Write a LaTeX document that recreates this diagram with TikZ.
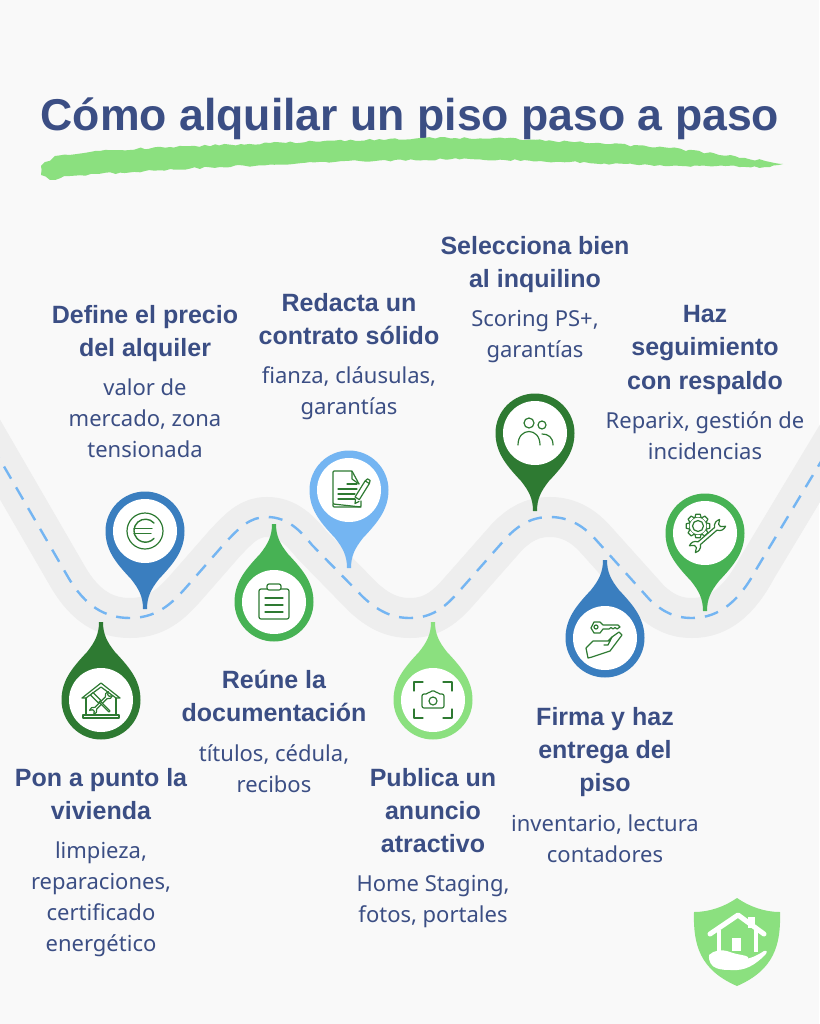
\documentclass[tikz,border=0pt]{standalone}
\usepackage{fontspec}
\setmainfont{Noto Sans}
\newfontfamily\headfont{Liberation Sans}
\usetikzlibrary{positioning,decorations.pathmorphing}
\definecolor{pagegrey}{HTML}{F9F9F9}
\definecolor{roadgrey}{HTML}{EEEEEE}
\definecolor{inkblue}{HTML}{3B4E84}
\definecolor{skyblue}{HTML}{74B5F2}
\definecolor{midblue}{HTML}{3A7EBF}
\definecolor{darkgreen}{HTML}{2E7A32}
\definecolor{midgreen}{HTML}{47B254}
\definecolor{lightgreen}{HTML}{8BE07F}
\tikzset{
	heading/.style={text=inkblue,align=center,inner sep=0pt,anchor=north,execute at begin node=\strut,execute at end node=\strut,font=\headfont\bfseries\fontsize{25}{33.3}\selectfont},
	detail/.style={text=inkblue,align=center,inner sep=0pt,execute at begin node=\strut,execute at end node=\strut,font=\fontsize{22}{31}\selectfont},
	pindisc/.style={circle,fill=white,minimum size=64pt,inner sep=0pt},
	iconline/.style={draw=darkgreen,line width=1.2pt,line join=round,line cap=round}
}
\newcommand{\mappin}[5]{%
	\fill[#4,shift={(#2,#3)},yscale=#5] (2,78) -- (-2,78) .. controls (-2,66) and (-6,58) .. (-14,48) .. controls (-28,33) and (-39.5,20) .. (-39.5,0) arc[start angle=180,end angle=360,radius=39.5] .. controls (39.5,20) and (28,33) .. (14,48) .. controls (6,58) and (2,66) .. (2,78) -- cycle;
	\node[pindisc] (#1) at (#2,#3) {};
}
\newcommand{\spanner}{(-11,1.8) -- (11,1.8) .. controls (13,5.5) and (17,6) .. (20,4.5) -- (16,1.5) -- (16,-1.5) -- (20,-4.5) .. controls (17,-6) and (13,-5.5) .. (11,-1.8) -- (-11,-1.8) .. controls (-13,-5.5) and (-17,-6) .. (-20,-4.5) -- (-16,-1.5) -- (-16,1.5) -- (-20,4.5) .. controls (-17,6) and (-13,5.5) .. (-11,1.8) -- cycle}
\begin{document}
\begin{tikzpicture}[x=1pt,y=-1pt]
	\useasboundingbox (0,0) rectangle (819,1024);
	\fill[pagegrey] (0,0) rectangle (819,1024);

	\node[text=inkblue,inner sep=0pt,font=\headfont\bfseries\fontsize{44.6}{50}\selectfont] (title) at (410,119) {Cómo alquilar un piso paso a paso};
	\fill[lightgreen,decorate,decoration={random steps,segment length=5pt,amplitude=1.1pt}]
		(41,166) -- (55,156) -- (95,151) -- (170,147) -- (270,143) -- (420,138) -- (495,138) -- (595,143) -- (670,148) -- (745,158) -- (783,164)
		-- (770,167) -- (670,166) -- (570,162) -- (470,159) -- (345,161) -- (220,167) -- (145,171) -- (70,176) -- (50,180) -- (41,175) -- cycle;

	\def\roadpath{(-20,425) -- (68,577) .. controls (85,606) and (105,618) .. (130,618) .. controls (160,618) and (175,600) .. (190,583) -- (225,543) .. controls (240,527) and (250,517) .. (267,517) .. controls (287,517) and (300,530) .. (312,545) -- (363,597) .. controls (378,611) and (392,618) .. (410,618) .. controls (435,618) and (448,604) .. (462,588) -- (507,537) .. controls (520,524) and (532,517) .. (550,517) .. controls (570,517) and (585,527) .. (597,541) -- (650,600) .. controls (663,612) and (675,618) .. (692,618) .. controls (720,618) and (740,600) .. (757,568) -- (840,430)}
	\draw[roadgrey,line width=40pt] \roadpath;
	\draw[skyblue,line width=2.4pt,dash pattern=on 14pt off 10pt] \roadpath;

	\mappin{pinprice}{145}{531}{midblue}{1}
	\mappin{pinhome}{101}{700}{darkgreen}{-1}
	\mappin{pindocs}{274}{602}{midgreen}{-1}
	\mappin{pincontract}{349}{490}{skyblue}{1}
	\mappin{pinadvert}{433}{700}{lightgreen}{-1}
	\mappin{pintenant}{535}{433}{darkgreen}{1}
	\mappin{pinkeys}{605}{638}{midblue}{-1}
	\mappin{pinfollow}{705}{533}{midgreen}{1}

	\begin{scope}[shift={(pinprice)},iconline]
		\draw (0,0) circle (18);
		\draw[line width=1.4pt] (9,-8) arc[start angle=-42,end angle=-318,radius=11.5];
		\draw[line width=1.4pt] (-11,-2.5) -- (7,-2.5) (-11,2.5) -- (6,2.5);
	\end{scope}
	\begin{scope}[shift={(pinhome)},iconline]
		\draw (-19,-2) -- (0,-17) -- (19,-2) -- (15,-2) -- (0,-13) -- (-15,-2) -- cycle;
		\draw (-15,-2) -- (-15,15) (15,-2) -- (15,15);
		\draw (-18,15) rectangle (18,18);
		\draw[fill=white,shift={(0,3)},rotate=45,scale=.66] \spanner;
		\draw[fill=white,shift={(0,3)},rotate=-45] (-13,-1.8) rectangle (-2,1.8) (-2,-.8) rectangle (12,.8);
	\end{scope}
	\begin{scope}[shift={(pindocs)},iconline]
		\draw[rounded corners=2pt] (-7,-13) -- (-15,-13) -- (-15,17) -- (15,17) -- (15,-13) -- (7,-13);
		\draw[rounded corners=2pt] (-7,-18) rectangle (7,-12);
		\draw (-9,-4) -- (9,-4) (-9,3) -- (9,3) (-9,10) -- (9,10);
	\end{scope}
	\begin{scope}[shift={(pincontract)},iconline]
		\draw[rounded corners=1pt] (10,-6) -- (3,-19) -- (-16,-19) -- (-16,14) -- (12,17) -- (12,11);
		\draw[rounded corners=1pt] (-16,14) -- (-16,17) -- (12,17);
		\draw (3,-19) -- (3,-11) -- (10,-6);
		\draw (-2,-6) -- (8,-6) (-11,-1) -- (8,-1) (-11,4) -- (6,4) (-11,9) -- (6,9);
		\draw[fill=white,shift={(14,-1)},rotate=58] (-11,-2.5) rectangle (8,2.5) (8,-2.5) -- (11,-1.5) -- (11,1.5) -- (8,2.5);
		\draw[fill=white] (6.5,9.5) -- (6,13.5) -- (10,11.5);
	\end{scope}
	\begin{scope}[shift={(pinadvert)},iconline]
		\draw (-19,-9) -- (-19,-18) -- (-10,-18) (10,-18) -- (19,-18) -- (19,-9) (-19,9) -- (-19,18) -- (-10,18) (10,18) -- (19,18) -- (19,9);
		\draw[rounded corners=2pt] (-11,-6) -- (-5,-6) -- (-3,-9) -- (3,-9) -- (5,-6) -- (11,-6) -- (11,8) -- (-11,8) -- cycle;
		\draw (0,1) circle (4);
	\end{scope}
	\begin{scope}[shift={(pintenant)},iconline]
		\draw (-6,-10) circle (5) (7,-8) circle (4);
		\draw (-17,12) .. controls (-17,-6) and (5,-6) .. (5,12);
		\draw (7,1) .. controls (13,1) and (18,4) .. (18,12);
	\end{scope}
	\begin{scope}[shift={(pinkeys)},iconline]
		\draw (-2,-13) -- (13,-13) -- (15,-11) -- (12,-9) -- (10,-10.5) -- (8,-9) -- (6,-10.5) -- (4,-9) -- (-2,-9) -- (-5,-5) -- (-11,-5) -- (-14,-10) -- (-11,-16) -- (-5,-16) -- cycle;
		\draw (-9,-11) circle (2);
		\draw (-19,10) -- (-12,3) -- (5,3) (3,3) -- (7,-1) -- (14,-6) -- (17,-3) -- (5,13) -- (-13,19) -- (-17,20) -- (-19,10);
		\draw (-1,7) -- (3,7) -- (7,-1);
	\end{scope}
	\begin{scope}[shift={(pinfollow)},iconline]
		\draw (-7,-7) circle (5.5);
		\draw (-7,-7) circle (9);
		\foreach \a in {0,45,...,315}
			\draw[fill=white,shift={(-7,-7)},rotate=\a] (-3,-8.8) -- (-2.2,-11.8) -- (2.2,-11.8) -- (3,-8.8);
		\draw[fill=white,shift={(2.5,3)},rotate=41] \spanner;
	\end{scope}

	\node[heading] (defhead) at (145,305) {Define el precio\\del alquiler};
	\node[detail,below=12pt of defhead] (defbody) {valor de\\mercado, zona\\tensionada};
	\node[heading] (redhead) at (349,293) {Redacta un\\contrato sólido};
	\node[detail,below=12pt of redhead] (redbody) {fianza, cláusulas,\\garantías};
	\node[heading] (selhead) at (535,236) {Selecciona bien\\al inquilino};
	\node[detail,below=12pt of selhead] (selbody) {Scoring PS+,\\garantías};
	\node[heading] (hazhead) at (705,305) {Haz\\seguimiento\\con respaldo};
	\node[detail,below=12pt of hazhead] (hazbody) {Reparix, gestión de\\incidencias};
	\node[heading] (ponhead) at (101,768) {Pon a punto la\\vivienda};
	\node[detail,below=12pt of ponhead] (ponbody) {limpieza,\\reparaciones,\\certificado\\energético};
	\node[heading] (reuhead) at (274,670) {Reúne la\\documentación};
	\node[detail,below=12pt of reuhead] (reubody) {títulos, cédula,\\recibos};
	\node[heading] (pubhead) at (433,768) {Publica un\\anuncio\\atractivo};
	\node[detail,below=12pt of pubhead] (pubbody) {Home Staging,\\fotos, portales};
	\node[heading] (firhead) at (605,707) {Firma y haz\\entrega del\\piso};
	\node[detail,below=12pt of firhead] (firbody) {inventario, lectura\\contadores};

	\fill[lightgreen] (737,898) .. controls (724,907) and (709,912) .. (694,912) .. controls (693,945) and (700,970) .. (737,986) .. controls (774,970) and (781,945) .. (780,912) .. controls (765,912) and (750,907) .. (737,898) -- cycle;
	\draw[white,line width=5pt,line cap=round,line join=round] (710,934) -- (738,915) -- (764,934);
	\draw[white,line width=4pt] (719,930) -- (719,952) (756,930) -- (756,952);
	\fill[white] (748,917) rectangle (755,928);
	\fill[white] (732,938) rectangle (741,951);
	\fill[white] (709,955) .. controls (714,950) and (722,949) .. (730,952) .. controls (738,955) and (746,955) .. (748,957) .. controls (750,960) and (745,961) .. (736,959) .. controls (745,961) and (755,957) .. (764,951) .. controls (768,950) and (767,953) .. (765,955) .. controls (755,965) and (745,971) .. (732,970) .. controls (722,970) and (708,970) .. (709,955) -- cycle;
\end{tikzpicture}
\end{document}
